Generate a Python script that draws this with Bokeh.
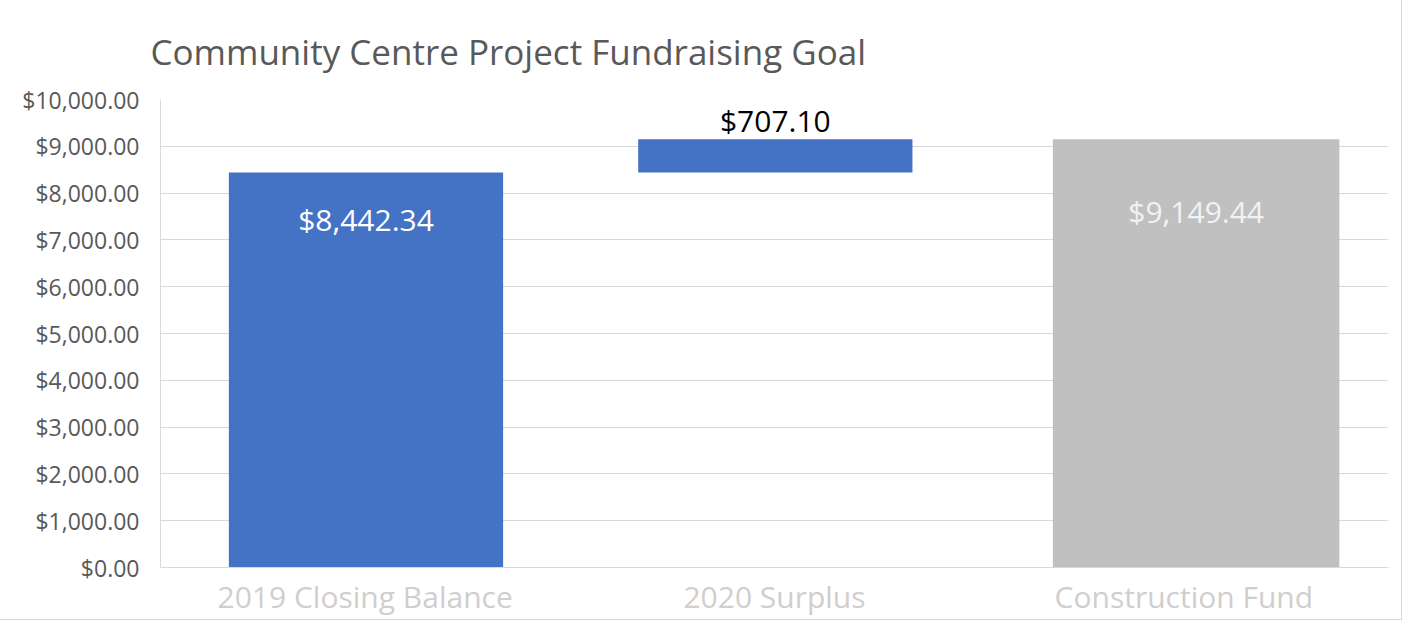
from bokeh.plotting import figure
from bokeh.models import ColumnDataSource, NumeralTickFormatter, FixedTicker
from bokeh.core.properties import value
from bokeh.transform import dodge
from bokeh.embed import file_html
from bokeh.resources import INLINE

# ---- data ----
title_text = "Community Centre Project Fundraising Goal"
categories = ["2019 Closing Balance", "2020 Surplus", "Construction Fund"]
amounts = [8442.34, 707.10, 9149.44]
is_total = [False, False, True]
label_texts = ["$8,442.34", "$707.10", "$9,149.44"]
y_ticks = [0, 1000, 2000, 3000, 4000, 5000, 6000, 7000, 8000, 9000, 10000]

# waterfall bottoms/tops derived from the amounts
bottoms, tops = [], []
running = 0.0
for amt, tot in zip(amounts, is_total):
    if tot:
        bottoms.append(0.0)
        tops.append(amt)
        running = amt
    else:
        bottoms.append(running)
        tops.append(running + amt)
        running += amt

FONT = "Open Sans"
BLUE = "#4472C4"
GREY = "#C0C0C0"
label_colors = ["#FFFFFF", "#000000", "#F2F2F2"]
label_offsets = [47, -19, 72]


def subset(flag):
    idx = [i for i, t in enumerate(is_total) if t == flag]
    return ColumnDataSource(dict(
        x=[categories[i] for i in idx],
        bottom=[bottoms[i] for i in idx],
        top=[tops[i] for i in idx],
        text=[label_texts[i] for i in idx],
        tcolor=[label_colors[i] for i in idx],
        yoff=[label_offsets[i] for i in idx],
    ))


src_step = subset(False)
src_total = subset(True)

p = figure(x_range=categories, y_range=(0, 10000), width=1401, height=619,
           output_backend="svg", toolbar_location=None,
           min_border_left=160, min_border_right=13, min_border_top=99, min_border_bottom=44)
p.styles = {"outline": "1px solid #d9d9d9"}

p.title.text = title_text
p.title.text_font = FONT
p.title.text_font_size = "35px"
p.title.text_font_style = "normal"
p.title.text_color = "#595959"
p.title.offset = -10
p.title.standoff = 50

p.vbar(x=dodge("x", 0.002, range=p.x_range), bottom="bottom", top="top", width=0.67,
       color=BLUE, line_color=None, source=src_step)
p.vbar(x=dodge("x", 0.03, range=p.x_range), bottom="bottom", top="top", width=0.70,
       color=GREY, line_color=None, source=src_total)

for s, dx in ((src_step, 0.002), (src_total, 0.03)):
    p.text(x=dodge("x", dx, range=p.x_range), y="top", text="text", text_color="tcolor",
           y_offset="yoff", text_font=value(FONT), text_font_size="30px",
           text_align="center", text_baseline="middle", source=s)

p.outline_line_color = None
p.background_fill_color = "white"
p.border_fill_color = "white"

p.xgrid.grid_line_color = None
p.ygrid.grid_line_color = "#D9D9D9"
p.ygrid.grid_line_width = 1

p.yaxis.ticker = FixedTicker(ticks=y_ticks)
p.yaxis.formatter = NumeralTickFormatter(format="$0,0.00")
p.yaxis.major_label_text_font = FONT
p.yaxis.major_label_text_font_size = "23px"
p.yaxis.major_label_text_color = "#595959"
p.yaxis.axis_line_color = "#D9D9D9"
p.yaxis.major_tick_line_color = None
p.yaxis.minor_tick_line_color = None
p.yaxis.major_label_standoff = 15

p.xaxis.axis_line_color = "#D9D9D9"
p.xaxis.major_tick_line_color = None
p.xaxis.minor_tick_line_color = None
p.xaxis.major_label_text_font = FONT
p.xaxis.major_label_text_font_size = "30px"
p.xaxis.major_label_text_color = "#D0CECE"
p.xaxis.major_label_standoff = 2

p.x_range.range_padding = 0
p.x_range.group_padding = 0

open("out.html", "w").write(file_html(p, INLINE))
